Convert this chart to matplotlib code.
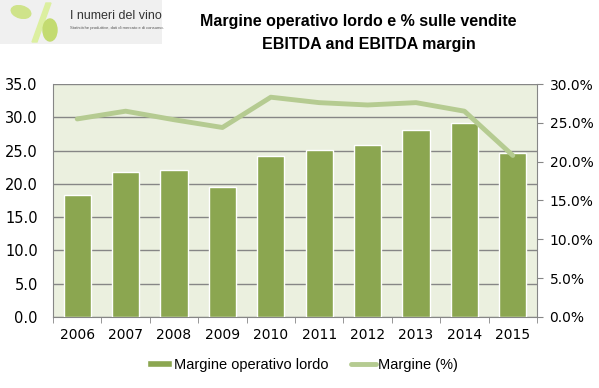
import matplotlib.pyplot as plt
from matplotlib.patches import Rectangle, Ellipse, Polygon
from matplotlib.ticker import FuncFormatter, FixedLocator

years = ["2006", "2007", "2008", "2009", "2010", "2011", "2012", "2013", "2014", "2015"]
ebitda = [18.3, 21.8, 22.1, 19.6, 24.2, 25.1, 25.9, 28.1, 29.2, 24.7]
margin_pct = [25.5, 26.5, 25.4, 24.4, 28.3, 27.6, 27.3, 27.6, 26.5, 20.8]

bar_color = "#8BA650"
line_color = "#B5CB91"
bg_color = "#EBF0DF"
spine_color = "#868686"

plt.rcParams["font.family"] = ["DejaVu Sans"]

fig = plt.figure(figsize=(5.99, 3.88), dpi=100)
ax = fig.add_axes([0.0885, 0.183, 0.808, 0.6005])
ax.set_facecolor(bg_color)

x = list(range(len(years)))
ax.bar(x, ebitda, width=0.56, color=bar_color, edgecolor="white", linewidth=1.0, zorder=3,
       label="Margine operativo lordo")
ax.set_xlim(-0.5, len(years) - 0.5)
ax.set_ylim(0, 35)
ax.set_yticks([0, 5, 10, 15, 20, 25, 30, 35])
ax.yaxis.set_major_formatter(FuncFormatter(lambda v, p: f"{v:.1f}"))
ax.grid(axis="y", color=spine_color, linewidth=1.0, zorder=1)
ax.set_xticks(x)
ax.set_xticklabels(years)
ax.xaxis.set_minor_locator(FixedLocator([i - 0.5 for i in range(len(years) + 1)]))
ax.tick_params(axis="x", which="major", length=0, labelsize=10, pad=8)
ax.tick_params(axis="x", which="minor", length=4, color=spine_color)
ax.tick_params(axis="y", length=0, labelsize=10.5, pad=11)
for s in ["top", "right"]:
    ax.spines[s].set_visible(False)
for s in ["left", "bottom"]:
    ax.spines[s].set_color(spine_color)

ax2 = ax.twinx()
ax2.plot(x, margin_pct, color=line_color, linewidth=3.5, solid_capstyle="round", zorder=4,
         label="Margine (%)")
ax2.set_ylim(0, 30)
ax2.set_yticks([0, 5, 10, 15, 20, 25, 30])
ax2.yaxis.set_major_formatter(FuncFormatter(lambda v, p: f"{v:.1f}%"))
ax2.tick_params(axis="y", length=4, color=spine_color, labelsize=10, pad=5)
for s in ["top", "left", "bottom"]:
    ax2.spines[s].set_visible(False)
ax2.spines["right"].set_color(spine_color)

h1, l1 = ax.get_legend_handles_labels()
h2, l2 = ax2.get_legend_handles_labels()
leg = fig.legend(h1 + h2, l1 + l2, loc="center", bbox_to_anchor=(0.505, 0.06), ncol=2, frameon=False,
                 prop={"family": "Liberation Sans", "size": 10.5},
                 handlelength=1.7, handleheight=0.35, handletextpad=0.15, columnspacing=1.5)

title_font = {"family": ["Liberation Sans", "DejaVu Sans"], "size": 11.5, "weight": "bold"}
fig.text(0.598, 0.945, "Margine operativo lordo e % sulle vendite", ha="center", va="center",
         fontdict=title_font)
fig.text(0.615, 0.885, "EBITDA and EBITDA margin", ha="center", va="center",
         fontdict=title_font)

# logo
logo = fig.add_axes([0.0, 1 - 44 / 388, 162 / 599, 44 / 388])
logo.set_xlim(0, 162)
logo.set_ylim(44, 0)
logo.axis("off")
logo.add_patch(Rectangle((0, 0), 162, 44, color="#F0F0F0"))
logo.add_patch(Polygon([[46, 3], [51, 3], [37, 42], [32, 42]], color="#DCEFA0"))
logo.add_patch(Ellipse((21, 12), 20, 12, angle=15, color="#CFE38A"))
logo.add_patch(Ellipse((50, 30), 14, 22, color="#C3DB70"))
logo.text(70, 16, "I numeri del vino", fontsize=9, color="#333333", va="center",
          family="Liberation Sans")
logo.text(70, 28, "Statistiche produttive, dati di mercato e di consumo.", fontsize=3,
          color="#555555", va="center", family="Liberation Sans")

fig.savefig("out.png", dpi=100)
